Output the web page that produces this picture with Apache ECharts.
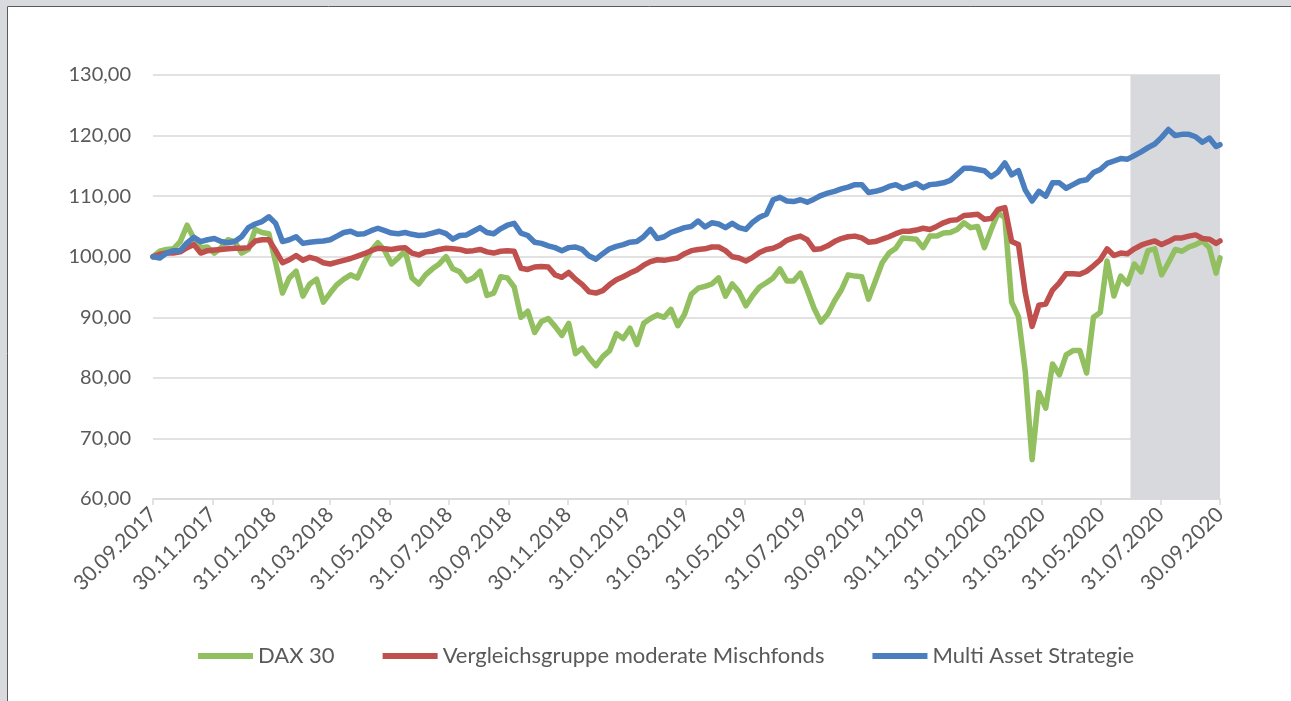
<!DOCTYPE html>
<html>
<head>
<meta charset="utf-8">
<script src="https://cdn.jsdelivr.net/npm/echarts@6/dist/echarts.min.js"></script>
<style>
html,body{margin:0;padding:0;background:#fff;}
#chart{width:1291px;height:701px;}
</style>
</head>
<body>
<div id="chart"></div>
<script>
const dates = [
'2017-09-30','2017-10-07','2017-10-14','2017-10-21','2017-10-28','2017-11-04','2017-11-11','2017-11-18','2017-11-25','2017-12-02',
'2017-12-09','2017-12-16','2017-12-23','2017-12-30','2018-01-06','2018-01-13','2018-01-20','2018-01-27','2018-02-03','2018-02-10',
'2018-02-17','2018-02-24','2018-03-03','2018-03-10','2018-03-17','2018-03-24','2018-03-31','2018-04-07','2018-04-14','2018-04-21',
'2018-04-28','2018-05-05','2018-05-12','2018-05-19','2018-05-26','2018-06-02','2018-06-09','2018-06-16','2018-06-23','2018-06-30',
'2018-07-07','2018-07-14','2018-07-21','2018-07-28','2018-08-04','2018-08-11','2018-08-18','2018-08-25','2018-09-01','2018-09-08',
'2018-09-15','2018-09-22','2018-09-29','2018-10-06','2018-10-13','2018-10-20','2018-10-27','2018-11-03','2018-11-10','2018-11-17',
'2018-11-24','2018-12-01','2018-12-08','2018-12-15','2018-12-22','2018-12-29','2019-01-05','2019-01-12','2019-01-19','2019-01-26',
'2019-02-02','2019-02-09','2019-02-16','2019-02-23','2019-03-02','2019-03-09','2019-03-16','2019-03-23','2019-03-30','2019-04-06',
'2019-04-13','2019-04-20','2019-04-27','2019-05-04','2019-05-11','2019-05-18','2019-05-25','2019-06-01','2019-06-08','2019-06-15',
'2019-06-22','2019-06-29','2019-07-06','2019-07-13','2019-07-20','2019-07-27','2019-08-03','2019-08-10','2019-08-17','2019-08-24',
'2019-08-31','2019-09-07','2019-09-14','2019-09-21','2019-09-28','2019-10-05','2019-10-12','2019-10-19','2019-10-26','2019-11-02',
'2019-11-09','2019-11-16','2019-11-23','2019-11-30','2019-12-07','2019-12-14','2019-12-21','2019-12-28','2020-01-04','2020-01-11',
'2020-01-18','2020-01-25','2020-02-01','2020-02-08','2020-02-15','2020-02-22','2020-02-29','2020-03-07','2020-03-14','2020-03-21',
'2020-03-28','2020-04-04','2020-04-11','2020-04-18','2020-04-25','2020-05-02','2020-05-09','2020-05-16','2020-05-23','2020-05-30',
'2020-06-06','2020-06-13','2020-06-20','2020-06-27','2020-07-04','2020-07-11','2020-07-18','2020-07-25','2020-08-01','2020-08-08',
'2020-08-15','2020-08-22','2020-08-29','2020-09-05','2020-09-12','2020-09-19','2020-09-26','2020-09-30'
];

const dax30 = [
100.0,100.9,101.2,101.3,102.5,105.2,103.0,101.5,101.6,100.6,
101.5,102.8,102.5,100.6,101.2,104.5,104.0,103.8,99.0,94.0,
96.5,97.6,93.5,95.5,96.3,92.5,94.0,95.4,96.3,97.0,
96.5,99.0,101.0,102.3,101.0,98.8,99.8,101.0,96.5,95.5,
97.0,98.0,98.8,100.0,98.0,97.5,96.0,96.5,97.6,93.6,
94.0,96.7,96.5,95.0,90.0,91.0,87.5,89.3,89.8,88.5,
87.0,89.0,84.0,84.9,83.3,82.0,83.5,84.5,87.3,86.5,
88.2,85.5,89.0,89.8,90.4,90.0,91.3,88.6,90.5,93.8,
94.8,95.1,95.5,96.5,93.5,95.5,94.2,91.9,93.6,95.0,
95.7,96.5,98.0,96.0,96.0,97.3,94.5,91.5,89.2,90.5,
92.7,94.5,97.0,96.8,96.7,93.0,96.0,99.0,100.6,101.4,
103.1,103.0,102.9,101.5,103.4,103.4,103.9,104.0,104.5,105.6,
104.8,105.0,101.5,104.5,107.2,106.5,92.5,90.1,81.0,66.5,
77.6,75.0,82.3,80.5,83.8,84.5,84.5,80.8,90.0,90.8,
99.3,93.5,96.8,95.5,98.8,97.5,101.0,101.3,97.0,99.0,
101.2,100.9,101.6,102.0,102.6,101.5,97.3,99.8
];

const vergleichsgruppe = [
100.0,100.4,100.6,100.6,100.8,101.5,102.0,100.6,101.0,101.1,
101.2,101.3,101.4,101.4,101.5,102.6,102.8,102.8,101.0,99.0,
99.5,100.2,99.4,99.9,99.6,99.0,98.8,99.1,99.4,99.7,
100.1,100.5,101.0,101.4,101.3,101.2,101.4,101.5,100.6,100.3,
100.8,100.9,101.2,101.4,101.3,101.2,100.9,101.0,101.2,100.8,
100.6,100.9,101.0,100.9,98.1,97.9,98.3,98.4,98.3,97.0,
96.6,97.4,96.3,95.4,94.2,94.0,94.4,95.4,96.2,96.7,
97.3,97.8,98.6,99.2,99.5,99.4,99.6,99.8,100.5,101.0,
101.2,101.3,101.6,101.6,101.0,100.0,99.8,99.3,99.9,100.7,
101.2,101.4,101.9,102.7,103.1,103.4,102.8,101.2,101.3,101.8,
102.5,103.0,103.3,103.4,103.1,102.4,102.5,102.9,103.3,103.8,
104.2,104.2,104.4,104.7,104.5,105.0,105.6,106.0,106.1,106.8,
106.9,107.0,106.2,106.3,107.8,108.1,102.5,102.0,94.0,88.5,
92.0,92.2,94.5,95.7,97.2,97.2,97.1,97.6,98.5,99.5,
101.3,100.2,100.6,100.5,101.3,101.9,102.3,102.6,102.0,102.5,
103.1,103.1,103.4,103.6,103.0,102.9,102.2,102.6
];

const multiAsset = [
100.0,99.8,100.6,101.0,101.0,102.3,103.2,102.5,102.8,103.0,
102.5,102.3,102.5,103.3,104.8,105.4,105.8,106.6,105.5,102.5,
102.8,103.3,102.2,102.4,102.5,102.6,102.8,103.4,104.0,104.2,
103.7,103.8,104.3,104.7,104.3,103.9,103.8,104.0,103.7,103.5,
103.6,103.9,104.2,103.8,102.9,103.5,103.6,104.2,104.8,104.0,
103.8,104.6,105.2,105.5,103.9,103.5,102.4,102.2,101.8,101.5,
101.0,101.5,101.6,101.2,100.1,99.6,100.5,101.3,101.7,102.0,
102.4,102.5,103.3,104.5,103.0,103.3,104.0,104.4,104.8,105.0,
105.9,104.9,105.6,105.4,104.8,105.5,104.8,104.5,105.7,106.5,
107.0,109.4,109.8,109.2,109.1,109.4,109.0,109.5,110.1,110.5,
110.8,111.2,111.5,111.9,111.9,110.6,110.8,111.1,111.6,111.9,
111.3,111.7,112.1,111.4,111.9,112.0,112.2,112.6,113.6,114.6,
114.6,114.4,114.2,113.2,114.0,115.5,113.5,114.2,111.0,109.2,
110.8,110.0,112.2,112.2,111.3,111.9,112.5,112.7,113.9,114.4,
115.4,115.8,116.2,116.1,116.7,117.3,118.0,118.6,119.7,121.0,
120.0,120.2,120.2,119.8,118.9,119.6,118.2,118.5
];

const tickDates = [
'2017-09-30','2017-11-30','2018-01-31','2018-03-31','2018-05-31','2018-07-31',
'2018-09-30','2018-11-30','2019-01-31','2019-03-31','2019-05-31','2019-07-31',
'2019-09-30','2019-11-30','2020-01-31','2020-03-31','2020-05-31','2020-07-31','2020-09-30'
];
const shadeRange = ['2020-06-30','2020-09-30'];
const seriesNames = ['DAX 30','Vergleichsgruppe moderate Mischfonds','Multi Asset Strategie'];
const colors = ['#92bf60','#c0504d','#4a7ebf'];

const ts = d => Date.parse(d + 'T00:00:00Z');
const pad = n => (n < 10 ? '0' : '') + n;
const fmtDate = v => { const d = new Date(v); return pad(d.getUTCDate()) + '.' + pad(d.getUTCMonth()+1) + '.' + d.getUTCFullYear(); };
const pairs = arr => arr.map((v, i) => [ts(dates[i]), v]);

const FONT = 'Lato';
const chart = echarts.init(document.getElementById('chart'));
chart.setOption({
  backgroundColor: '#ffffff',
  animation: false,
  color: colors,
  graphic: [
    { type: 'rect', shape: { x: 0, y: 0, width: 1291, height: 6 }, style: { fill: '#d9dadd' }, silent: true },
    { type: 'rect', shape: { x: 0, y: 0, width: 7, height: 701 }, style: { fill: '#d9dadd' }, silent: true },
    { type: 'line', shape: { x1: 7.5, y1: 6.5, x2: 1291, y2: 6.5 }, style: { stroke: '#5a5a5a', lineWidth: 1 }, silent: true },
    { type: 'line', shape: { x1: 7.5, y1: 6.5, x2: 7.5, y2: 701 }, style: { stroke: '#5a5a5a', lineWidth: 1 }, silent: true }
  ],
  grid: { left: 153, right: 71, top: 75, bottom: 202, containLabel: false },
  legend: {
    data: seriesNames,
    left: 193,
    top: 640,
    itemWidth: 55,
    itemHeight: 6,
    itemGap: 48,
    icon: 'rect',
    textStyle: { fontFamily: FONT, fontSize: 22, color: '#595959' }
  },
  xAxis: {
    type: 'value',
    min: ts(tickDates[0]),
    max: ts(tickDates[tickDates.length - 1]),
    splitLine: { show: false },
    axisLine: { show: true, lineStyle: { color: '#d9d9d9', width: 1.5 } },
    axisTick: { show: true, length: 6, lineStyle: { color: '#d9d9d9', width: 1.5 }, customValues: tickDates.map(ts) },
    axisLabel: {
      customValues: tickDates.map(ts),
      rotate: 45,
      margin: 12,
      fontFamily: FONT, fontSize: 21, color: '#595959',
      formatter: v => fmtDate(v)
    }
  },
  yAxis: {
    type: 'value',
    min: 60, max: 130, interval: 10,
    axisLine: { show: false },
    axisTick: { show: false },
    splitLine: { lineStyle: { color: '#d9d9d9', width: 1.5 } },
    axisLabel: {
      margin: 22,
      fontFamily: FONT, fontSize: 20, color: '#595959',
      formatter: v => v.toFixed(2).replace('.', ',')
    }
  },
  series: [
    { name: seriesNames[0], type: 'line', data: pairs(dax30), showSymbol: false, symbol: 'none', lineStyle: { width: 5.5, color: colors[0], join: 'round', cap: 'round' }, z: 3,
      markArea: { silent: true, itemStyle: { color: '#d8d9dc' }, data: [[{ xAxis: ts(shadeRange[0]) }, { xAxis: ts(shadeRange[1]) }]] } },
    { name: seriesNames[1], type: 'line', data: pairs(vergleichsgruppe), showSymbol: false, symbol: 'none', lineStyle: { width: 5.5, color: colors[1], join: 'round', cap: 'round' }, z: 4 },
    { name: seriesNames[2], type: 'line', data: pairs(multiAsset), showSymbol: false, symbol: 'none', lineStyle: { width: 5.5, color: colors[2], join: 'round', cap: 'round' }, z: 5 }
  ]
});
</script>
</body>
</html>
